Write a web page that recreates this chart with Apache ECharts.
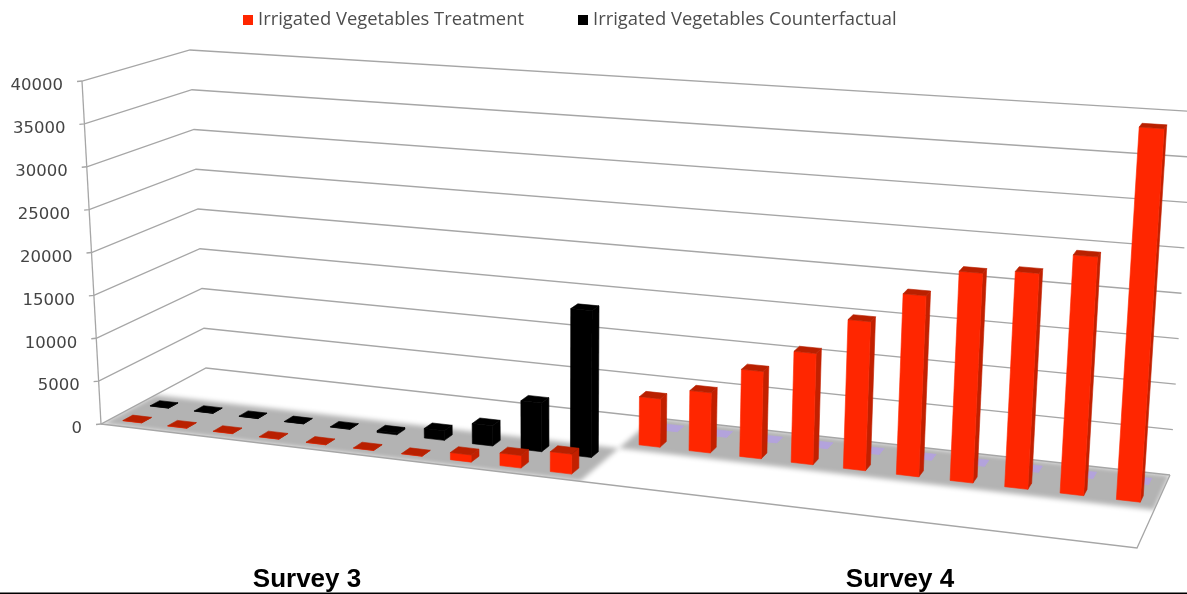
<!DOCTYPE html>
<html>
<head>
<meta charset="utf-8">
<style>html,body{margin:0;padding:0;background:#fff}#chart{width:1187px;height:594px}</style>
<script src="https://cdn.jsdelivr.net/npm/echarts@6/dist/echarts.min.js"></script>
</head>
<body>
<div id="chart"></div>
<script>
// Irrigated vegetables by survey round: ten household groups per round
const slots = ['1','2','3','4','5','6','7','8','9','10','1','2','3','4','5','6','7','8','9','10'];
const surveyLabels = ['Survey 3', 'Survey 4'];
const tickValues = [0, 5000, 10000, 15000, 20000, 25000, 30000, 35000, 40000];
const treatmentName = 'Irrigated Vegetables Treatment';
const counterfactualName = 'Irrigated Vegetables Counterfactual';
const survey3Treatment = [30, 30, 30, 30, 30, 30, 30, 800, 1400, 2200];
const survey3Counterfactual = [30, 30, 30, 30, 30, 200, 1100, 2300, 5500, 16500];
const survey4Treatment = [5500, 6800, 9800, 12400, 16500, 19900, 22900, 23400, 25700, 39900];
const survey4Counterfactual = [30, 30, 30, 30, 30, 30, 30, 30, 30, 30];

const SLOT_SURVEY4 = 10;
// Depth rows on the floor, front to back
const ROW = { s3t: 0.125, s3c: 0.375, s4t: 0.625, s4c: 0.875 };
const BAR_WIDTH = 0.42;   // share of a slot
const BAR_DEPTH = 0.09;   // share of the floor depth

// Perspective map of the floor and of the 40000 plane above it, sharing one denominator
// so that verticals stay consistent. Corners run u0w0, u1w0, u1w1, u0w1.
const FLOOR = [[101, 424], [1137, 548], [1170, 475], [206, 368]];
const CEIL = [[82, 81], [1164, 155], [1193, 111.5], [190, 50]];
const persp = { g: -0.14, h: 0.0787 };
const depthTerm = (u, w) => 1 + persp.g * u + persp.h * w;

function planePoint(q, u, w) {
  const weights = [(1 - u) * (1 - w), u * (1 - w), u * w, (1 - u) * w];
  const terms = [depthTerm(0, 0), depthTerm(1, 0), depthTerm(1, 1), depthTerm(0, 1)];
  let x = 0, y = 0;
  q.forEach((p, i) => { x += weights[i] * p[0] * terms[i]; y += weights[i] * p[1] * terms[i]; });
  const k = depthTerm(u, w);
  return [x / k, y / k];
}

// u: across the slots, w: depth from front to back, t: share of the value axis
function project(u, w, t) {
  const f = planePoint(FLOOR, u, w), c = planePoint(CEIL, u, w);
  return [f[0] + (c[0] - f[0]) * t, f[1] + (c[1] - f[1]) * t];
}
function axisShare(api, params, value) {
  const cs = params.coordSys;
  return (cs.y + cs.height - api.coord([0, value])[1]) / cs.height;
}
function lineEl(points, stroke, width) {
  return { type: 'polyline', shape: { points }, style: { stroke, lineWidth: width, fill: null } };
}
function polyEl(points, fill, extra) {
  return { type: 'polygon', shape: { points }, style: Object.assign({ fill }, extra || {}) };
}

const GRID_COLOR = '#a6a6a6';
const FLOOR_GRAY = '#b3b3b3';
const SHADOW_SHIFT = 3000;

// Soft-edged patch: only the shadow of an off-screen polygon lands on the canvas
function softPatch(points) {
  return {
    type: 'polygon',
    shape: { points: points.map(p => [p[0] - SHADOW_SHIFT, p[1]]) },
    style: { fill: FLOOR_GRAY, shadowBlur: 5, shadowColor: FLOOR_GRAY, shadowOffsetX: SHADOW_SHIFT }
  };
}

function renderFloor(params, api) {
  const white = '#ffffff';
  const q = (u0, w0, u1, w1) => [project(u0, w0, 0), project(u1, w0, 0), project(u1, w1, 0), project(u0, w1, 0)];
  return {
    type: 'group',
    children: [
      softPatch(q(0, 0, 0.5, 0.5)),
      softPatch(q(0.5, 0.5, 1, 1)),
      // Keep the floor's outer edges crisp
      polyEl(q(-0.03, -0.08, 1.03, 0), white),
      polyEl(q(1, 0, 1.03, 1.08), white),
      polyEl(q(0.4, 1, 1.03, 1.08), white),
      polyEl(q(-0.03, 0, 0, 0.7), white),
      lineEl([project(0, 0, 0), project(1, 0, 0), project(1, 1, 0)], GRID_COLOR, 1.3)
    ]
  };
}

function renderWall(params, api) {
  const value = api.value(1);
  const t = axisShare(api, params, value);
  const front = project(0, 0, t), back = project(0, 1, t), right = project(1, 1, t);
  return {
    type: 'group',
    children: [
      lineEl([[front[0] - 5, front[1] + 0.5], front, back, right], GRID_COLOR, 1.3),
      {
        type: 'text',
        style: {
          text: String(value),
          x: front[0] - 19, y: front[1] + 5,
          align: 'right', verticalAlign: 'middle',
          font: '16.5px "DejaVu Sans"', fill: '#444444'
        }
      }
    ]
  };
}

function renderAxisLine(params, api) {
  return lineEl([project(0, 0, 0), project(0, 0, 1)], GRID_COLOR, 1.3);
}

const palette = {
  red: { front: '#ff2600', side: '#c22000', top: '#b92000' },
  black: { front: '#000000', side: '#000000', top: '#000000' },
  lilac: { front: '#b3a3dc', side: '#b3a3dc', top: '#b3a3dc' }
};

function renderBar(colorFor) {
  return function (params, api) {
    const cs = params.coordSys;
    const slot = api.value(0), value = api.value(1), row = api.value(2);
    const center = (api.coord([slot, value])[0] - cs.x) / cs.width;
    const half = api.size([1, 0])[0] / cs.width * BAR_WIDTH / 2;
    const u0 = center - half, u1 = center + half;
    const w0 = row - BAR_DEPTH / 2, w1 = row + BAR_DEPTH / 2;
    const t = axisShare(api, params, value);
    const c = colorFor(slot);
    const face = color => ({ stroke: color, lineWidth: 0.6 });
    return {
      type: 'group',
      children: [
        polyEl([project(u1, w0, 0), project(u1, w1, 0), project(u1, w1, t), project(u1, w0, t)], c.side, face(c.side)),
        polyEl([project(u0, w0, 0), project(u1, w0, 0), project(u1, w0, t), project(u0, w0, t)], c.front, face(c.front)),
        polyEl([project(u0, w0, t), project(u1, w0, t), project(u1, w1, t), project(u0, w1, t)], c.top, face(c.top))
      ]
    };
  };
}

function rows(s3, s4, r3, r4) {
  return s3.map((v, i) => [i, v, r3]).concat(s4.map((v, i) => [SLOT_SURVEY4 + i, v, r4]));
}

const chart = echarts.init(document.getElementById('chart'), null, { renderer: 'canvas' });
chart.setOption({
  animation: false,
  backgroundColor: '#ffffff',
  legend: {
    data: [treatmentName, counterfactualName],
    left: 238, top: 6,
    itemWidth: 10, itemHeight: 10, itemGap: 54,
    icon: 'rect',
    textStyle: { fontFamily: 'Open Sans', fontSize: 18.4, color: '#4d4d4d' }
  },
  grid: { left: 0, right: 0, top: 0, bottom: 0 },
  xAxis: { type: 'category', data: slots.map((s, i) => i + ':' + s), show: false },
  yAxis: { type: 'value', min: 0, max: 40000, interval: 5000, show: false },
  graphic: [
    { type: 'text', style: { text: surveyLabels[0], x: 307, y: 580, align: 'center', verticalAlign: 'middle', font: 'bold 26px "Liberation Sans"', fill: '#000' } },
    { type: 'text', style: { text: surveyLabels[1], x: 900, y: 580, align: 'center', verticalAlign: 'middle', font: 'bold 26px "Liberation Sans"', fill: '#000' } },
    { type: 'rect', shape: { x: 0, y: 592.5, width: 1187, height: 1.5 }, style: { fill: '#000' } }
  ],
  series: [
    { type: 'custom', name: 'floor', z: 1, silent: true, renderItem: renderFloor, data: [[0, 0]], encode: { x: 0, y: 1 } },
    { type: 'custom', name: 'walls', z: 2, silent: true, renderItem: renderWall, data: tickValues.map(v => [0, v]), encode: { x: 0, y: 1 } },
    { type: 'custom', name: 'axis', z: 2, silent: true, renderItem: renderAxisLine, data: [[0, 0]], encode: { x: 0, y: 1 } },
    {
      type: 'custom', name: counterfactualName, z: 3, silent: true,
      itemStyle: { color: '#000000' },
      renderItem: renderBar(slot => slot < SLOT_SURVEY4 ? palette.black : palette.lilac),
      data: rows(survey3Counterfactual, survey4Counterfactual, ROW.s3c, ROW.s4c),
      encode: { x: 0, y: 1 }
    },
    {
      type: 'custom', name: treatmentName, z: 4, silent: true,
      itemStyle: { color: '#ff2600' },
      renderItem: renderBar(() => palette.red),
      data: rows(survey3Treatment, survey4Treatment, ROW.s3t, ROW.s4t),
      encode: { x: 0, y: 1 }
    }
  ]
});
</script>
</body>
</html>
